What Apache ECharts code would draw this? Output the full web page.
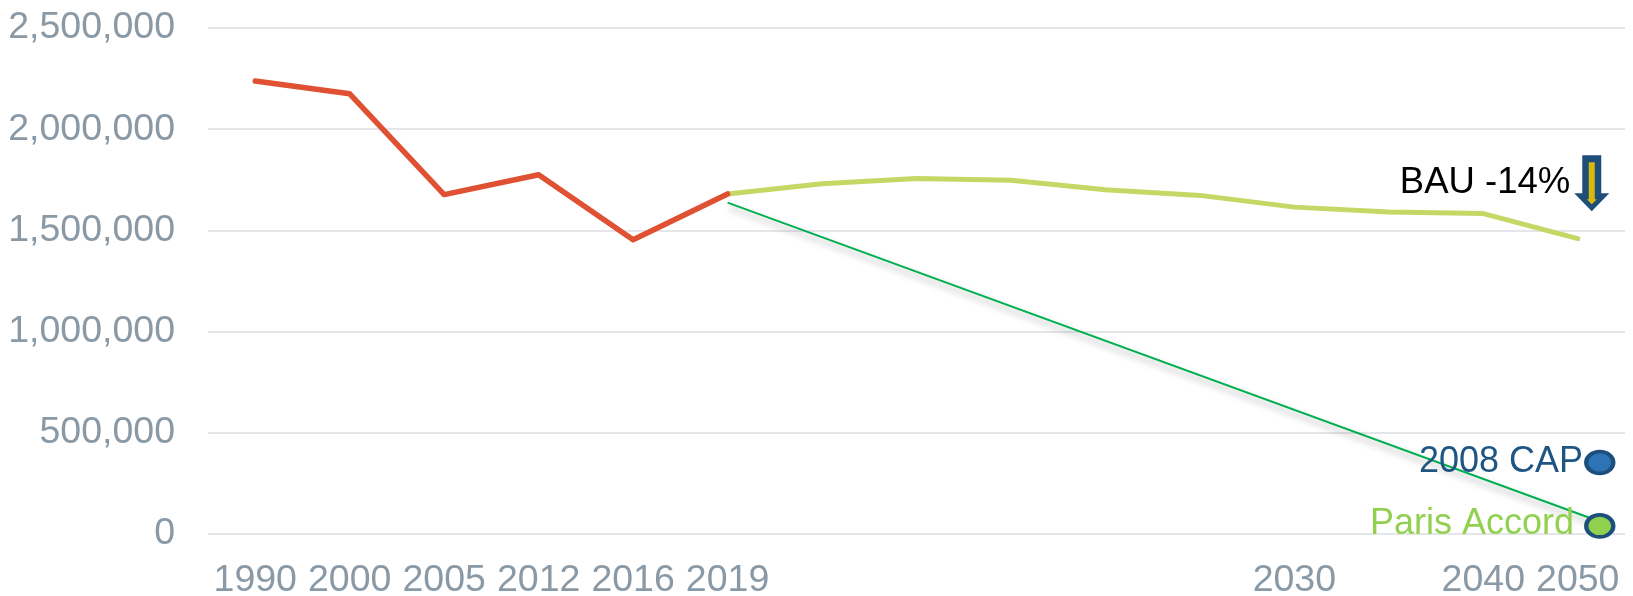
<!DOCTYPE html>
<html>
<head>
<meta charset="utf-8">
<script src="https://cdn.jsdelivr.net/npm/echarts@6/dist/echarts.min.js"></script>
<style>
  html, body { margin: 0; padding: 0; background: #ffffff; }
  #chart { width: 1633px; height: 596px; }
</style>
</head>
<body>
<div id="chart"></div>
<script>
// ---- data ----
const xLabels = ['1990', '2000', '2005', '2012', '2016', '2019', '', '', '', '', '', '2030', '', '2040', '2050'];
const historicalYears = ['1990', '2000', '2005', '2012', '2016', '2019'];
const historicalValues = [2238000, 2175000, 1677000, 1775000, 1454000, 1680000];
// BAU projection, one value per slot from 2019 to 2050
const bauValues = [1680000, 1731000, 1756000, 1748000, 1701000, 1673000, 1615000, 1591000, 1583000, 1459000];
const parisYears = ['2019', '2050'];
const parisValues = [1637000, 74000];
const cap2008Value = 353000;
const parisTargetValue = 40000;
const bauNoteValue = 1733000;
const yTicks = [0, 500000, 1000000, 1500000, 2000000, 2500000];

// ---- build ----
const FONT = "'Liberation Sans', Arial, sans-serif";
const idx = y => xLabels.indexOf(y);
const redData = historicalYears.map((y, i) => [idx(y), historicalValues[i]]);
const bauStart = idx('2019');
const bauData = bauValues.map((v, i) => [bauStart + i, v]);
const parisEndShift = 0.16;
const parisData = parisYears.map((y, i) => [idx(y) + (i === parisYears.length - 1 ? parisEndShift : 0), parisValues[i]]);
const last = idx('2050');

const ellipse = 'path://M0 12 A14 12 0 1 1 28 12 A14 12 0 1 1 0 12 Z';
const blueArrow = 'path://M8 0 L27 0 L27 38 L35 38 L17.5 56 L0 38 L8 38 Z';
const yellowArrow = 'path://M2 0 L8 0 L8 37 L10 37 L5 42 L0 37 L2 37 Z';

const chart = echarts.init(document.getElementById('chart'), null, { renderer: 'canvas' });
chart.setOption({
  animation: false,
  backgroundColor: '#ffffff',
  grid: { left: 208, right: 8, top: 28, bottom: 62, containLabel: false, outerBoundsMode: 'none' },
  xAxis: [
    {
      type: 'category',
      data: xLabels,
      boundaryGap: true,
      axisLine: { show: false },
      axisTick: { show: false },
      splitLine: { show: false },
      axisLabel: { interval: 0, color: '#8a99a6', fontSize: 37.5, fontFamily: FONT, margin: 28 }
    },
    {
      type: 'value',
      min: -0.5, max: 14.5,
      show: false,
      splitLine: { show: false }
    }
  ],
  yAxis: {
    type: 'value',
    min: 0, max: 2500000, interval: 500000,
    axisLine: { show: false },
    axisTick: { show: false },
    splitLine: { lineStyle: { color: '#e4e7ea', width: 2 } },
    axisLabel: {
      color: '#8a99a6', fontSize: 37.5, fontFamily: FONT, margin: 33,
      formatter: v => yTicks.includes(v) ? v.toLocaleString('en-US') : ''
    }
  },
  series: [
    {
      name: 'Paris', type: 'line', xAxisIndex: 1, data: parisData,
      symbol: 'none', z: 2,
      lineStyle: { color: '#00b050', width: 2, shadowColor: 'rgba(0,0,0,0.35)', shadowBlur: 7, shadowOffsetX: 2, shadowOffsetY: 5 }
    },
    {
      name: 'Historical', type: 'line', xAxisIndex: 1, data: redData,
      symbol: 'none', z: 4,
      lineStyle: { color: '#e05033', width: 5.5, cap: 'round', join: 'round' }
    },
    {
      name: 'BAU', type: 'line', xAxisIndex: 1, data: bauData,
      symbol: 'none', z: 3,
      lineStyle: { color: '#c5d865', width: 5, cap: 'round', join: 'round' }
    },
    {
      name: 'BAU note', type: 'scatter', xAxisIndex: 1, z: 6,
      data: [[last, bauNoteValue]],
      symbol: blueArrow, symbolSize: [35, 56], symbolOffset: [14, 0],
      itemStyle: { color: '#1f4e79', opacity: 1 },
      label: { show: true, position: 'left', distance: 4, formatter: 'BAU -14%', color: '#000000', fontSize: 36.5, fontFamily: FONT }
    },
    {
      name: 'BAU note inner', type: 'scatter', xAxisIndex: 1, z: 7,
      data: [[last, bauNoteValue]],
      symbol: yellowArrow, symbolSize: [10, 42], symbolOffset: [14, 0],
      itemStyle: { color: '#d6b90a', opacity: 1 }
    },
    {
      name: 'Targets', type: 'scatter', xAxisIndex: 1, z: 5,
      symbol: ellipse, symbolSize: [27, 22],
      data: [
        {
          value: [last, cap2008Value], symbolOffset: [22, 0],
          itemStyle: { color: '#2e74b5', borderColor: '#1c4f7c', borderWidth: 4, opacity: 1 },
          label: { show: true, position: 'left', distance: 1, formatter: '2008 CAP', color: '#1f5583', fontSize: 36, fontFamily: FONT }
        },
        {
          value: [last, parisTargetValue], symbolOffset: [22, 0],
          itemStyle: { color: '#92d050', borderColor: '#1c4f7c', borderWidth: 4, opacity: 1 },
          label: { show: true, position: 'left', distance: 10, offset: [0, -2], formatter: 'Paris Accord', color: '#92d050', fontSize: 36, fontFamily: FONT }
        }
      ]
    }
  ]
});
</script>
</body>
</html>
